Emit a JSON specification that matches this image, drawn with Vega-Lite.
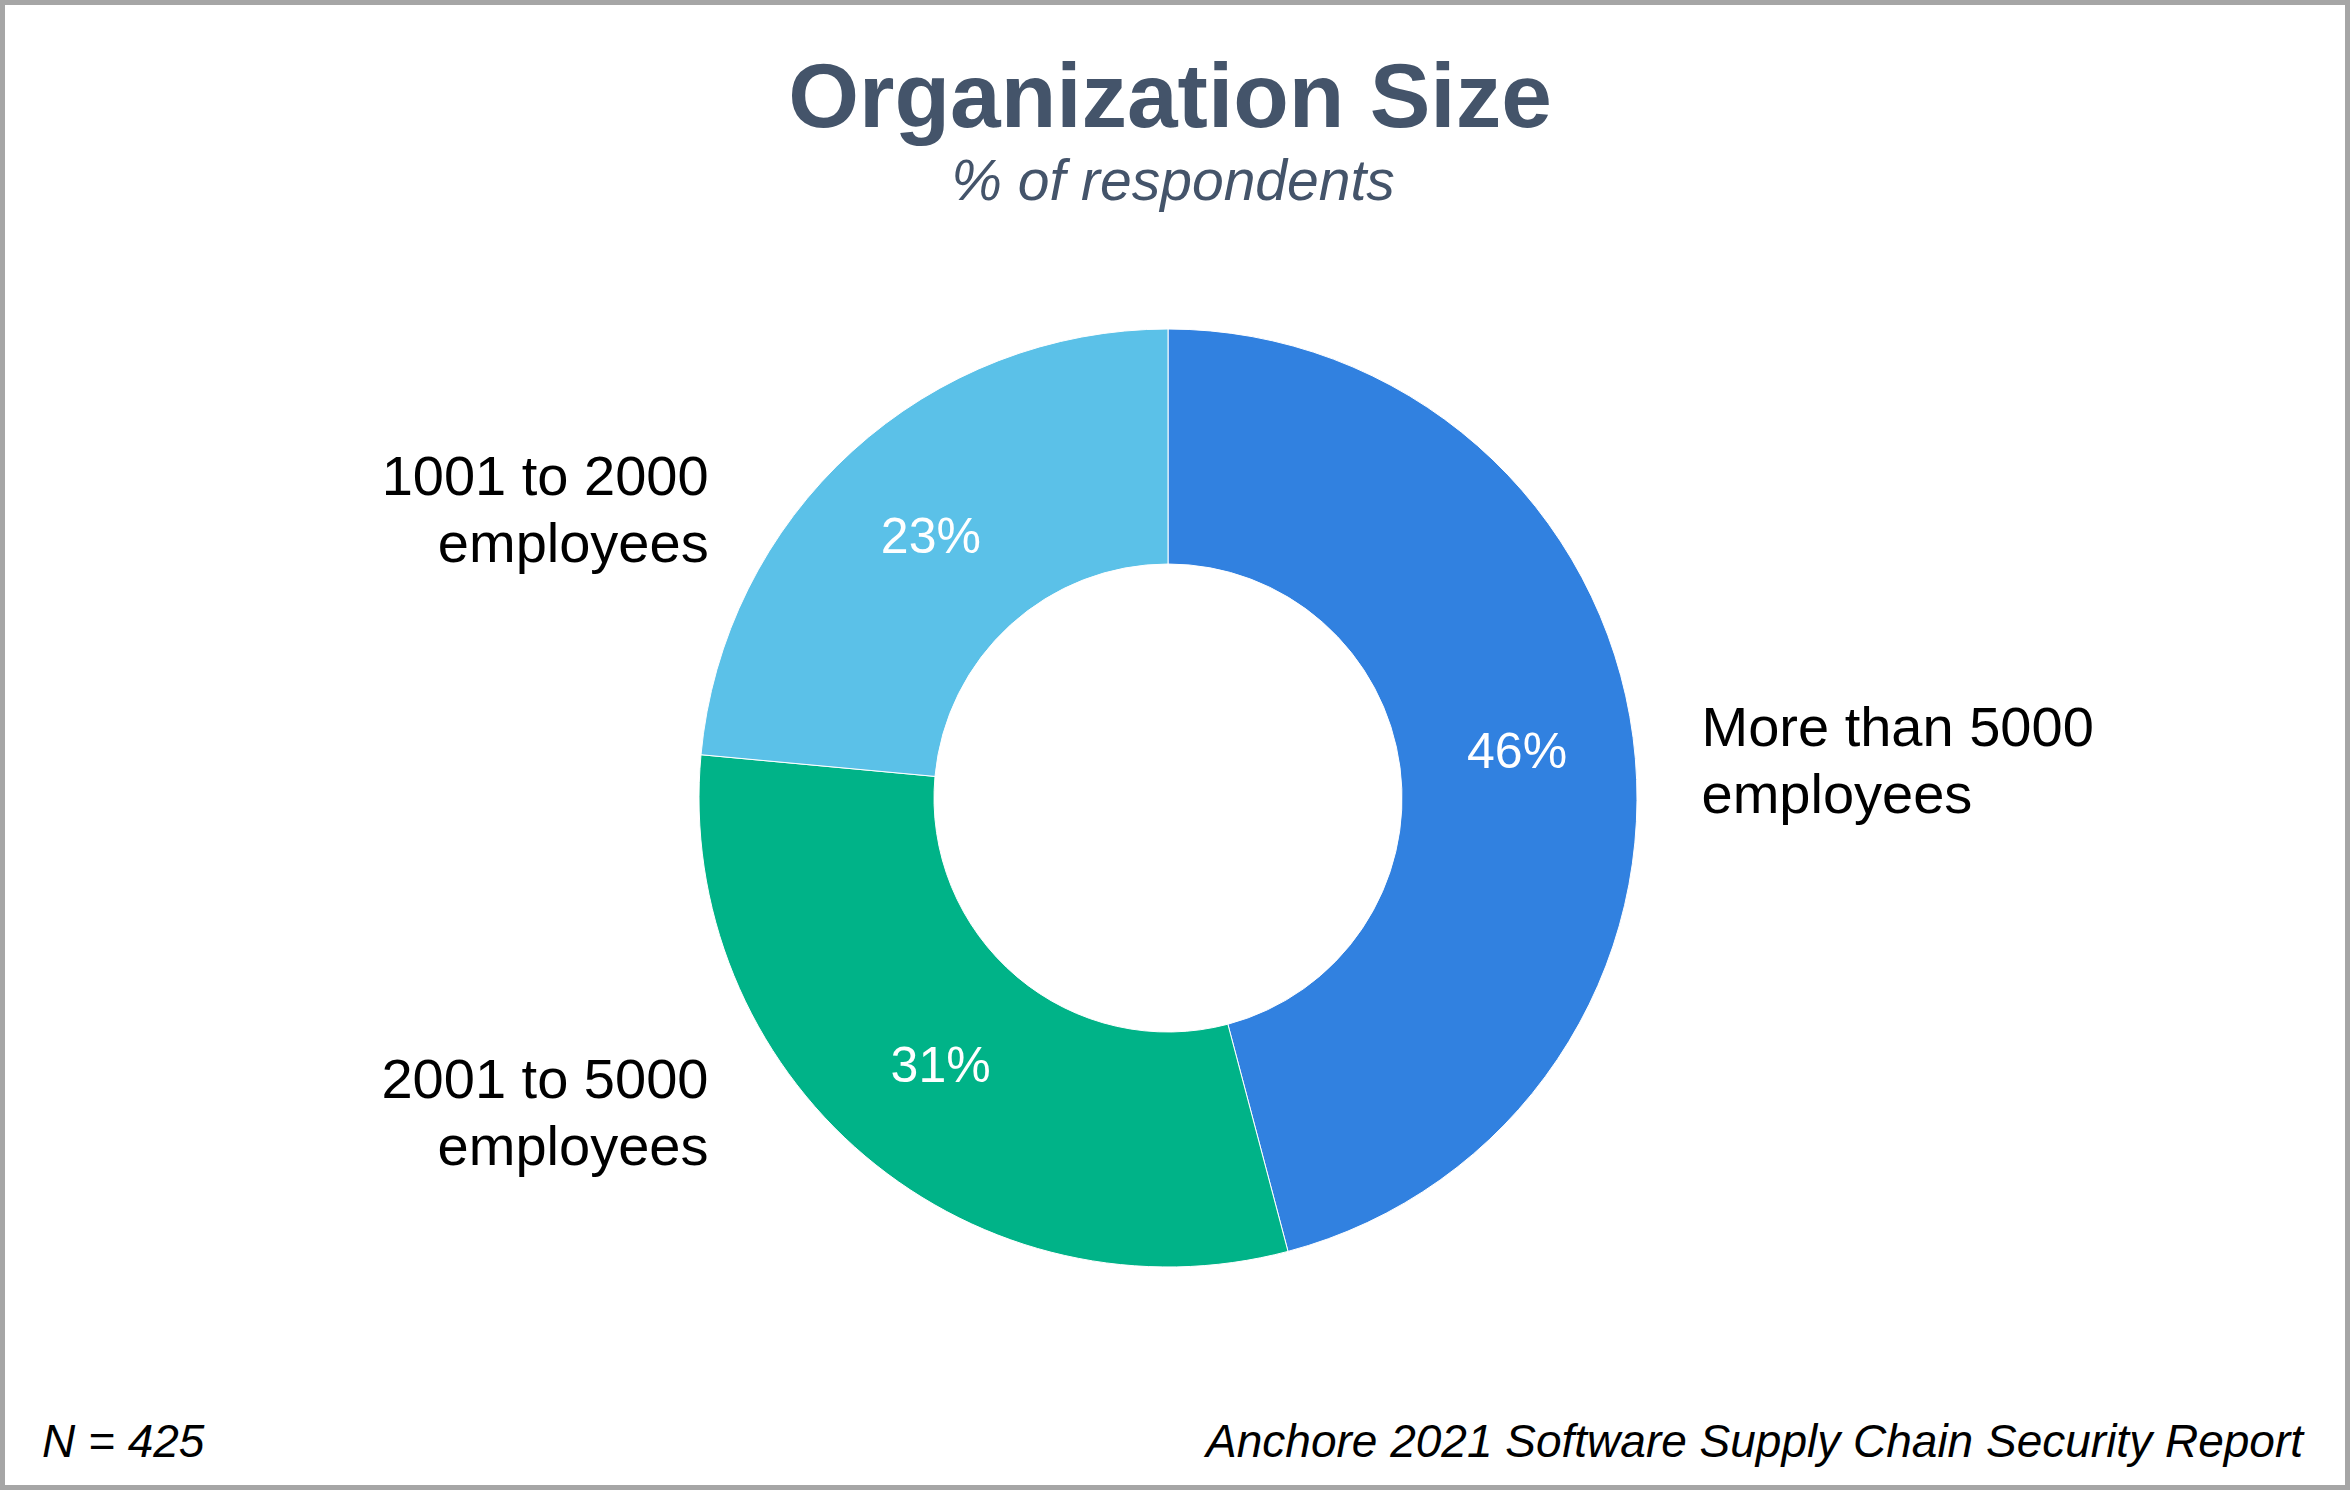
{
  "$schema": "https://vega.github.io/schema/vega-lite/v6.json",
  "width": 2350,
  "height": 1490,
  "autosize": {"type": "fit", "contains": "padding"},
  "padding": 0,
  "background": "white",
  "view": {"stroke": "#A6A6A6", "strokeWidth": 10, "fill": "white"},
  "config": {
    "view": {"stroke": "#A6A6A6", "strokeWidth": 10},
    "font": "Liberation Sans",
    "text": {"font": "Liberation Sans"}
  },
  "datasets": {
    "org": [
      {"category": "More than 5000\nemployees", "count": 195, "pct": "46%"},
      {"category": "2001 to 5000\nemployees", "count": 130, "pct": "31%"},
      {"category": "1001 to 2000\nemployees", "count": 100, "pct": "23%"}
    ],
    "notes": [
      {"title": "Organization Size", "subtitle": "% of respondents", "n": "N = 425", "source": "Anchore 2021 Software Supply Chain Security Report"}
    ]
  },
  "layer": [
    {
      "data": {"name": "org"},
      "mark": {"type": "arc", "innerRadius": 234, "outerRadius": 469, "x": {"expr": "width/2 - 7"}, "y": {"expr": "height/2 + 53"}, "stroke": "white", "strokeWidth": 1},
      "encoding": {
        "theta": {"field": "count", "type": "quantitative", "stack": true},
        "order": {"field": "category", "sort": "descending"},
        "color": {"field": "category", "type": "nominal", "legend": null,
          "scale": {"domain": ["More than 5000\nemployees", "2001 to 5000\nemployees", "1001 to 2000\nemployees"], "range": ["#3181E0", "#00B388", "#5BC1E8"]}}
      }
    },
    {
      "data": {"name": "org"},
      "mark": {"type": "text", "radius": 352, "x": {"expr": "width/2 - 7"}, "y": {"expr": "height/2 + 53"}, "fontSize": 50, "color": "white", "align": "center", "baseline": "middle"},
      "encoding": {
        "theta": {"field": "count", "type": "quantitative", "stack": true},
        "order": {"field": "category", "sort": "descending"},
        "text": {"field": "pct", "type": "nominal"}
      }
    },
    {
      "data": {"name": "org"},
      "mark": {"type": "text", "radius": 538, "x": {"expr": "width/2 - 7"}, "y": {"expr": "height/2 + 53"}, "dy": 0, "fontSize": 56, "lineHeight": 67, "lineBreak": "\n", "color": "black", "align": "left", "baseline": "middle"},
      "encoding": {
        "theta": {"field": "count", "type": "quantitative", "stack": true},
        "order": {"field": "category", "sort": "descending"},
        "text": {"condition": {"test": "indexof(datum.category, 'More') === 0", "field": "category"}, "value": ""}
      }
    },
    {
      "data": {"name": "org"},
      "mark": {"type": "text", "radius": 523, "x": {"expr": "width/2 - 7"}, "y": {"expr": "height/2 + 53"}, "dx": -107, "dy": 67, "fontSize": 56, "lineHeight": 67, "lineBreak": "\n", "color": "black", "align": "right", "baseline": "middle"},
      "encoding": {
        "theta": {"field": "count", "type": "quantitative", "stack": true},
        "order": {"field": "category", "sort": "descending"},
        "text": {"condition": {"test": "indexof(datum.category, '1001') === 0", "field": "category"}, "value": ""}
      }
    },
    {
      "data": {"name": "org"},
      "mark": {"type": "text", "radius": 535, "x": {"expr": "width/2 - 7"}, "y": {"expr": "height/2 + 53"}, "dx": -114, "dy": -125, "fontSize": 56, "lineHeight": 67, "lineBreak": "\n", "color": "black", "align": "right", "baseline": "middle"},
      "encoding": {
        "theta": {"field": "count", "type": "quantitative", "stack": true},
        "order": {"field": "category", "sort": "descending"},
        "text": {"condition": {"test": "indexof(datum.category, '2001') === 0", "field": "category"}, "value": ""}
      }
    },
    {
      "data": {"name": "notes"},
      "mark": {"type": "text", "x": {"expr": "width/2 - 5"}, "y": 127, "fontSize": 91, "fontWeight": "bold", "color": "#44546A", "align": "center", "baseline": "alphabetic"},
      "encoding": {"text": {"field": "title", "type": "nominal"}}
    },
    {
      "data": {"name": "notes"},
      "mark": {"type": "text", "x": {"expr": "width/2 - 2"}, "y": 200, "fontSize": 57, "fontStyle": "italic", "color": "#44546A", "align": "center", "baseline": "alphabetic"},
      "encoding": {"text": {"field": "subtitle", "type": "nominal"}}
    },
    {
      "data": {"name": "notes"},
      "mark": {"type": "text", "x": 42, "y": 1457, "fontSize": 46, "fontStyle": "italic", "color": "black", "align": "left", "baseline": "alphabetic"},
      "encoding": {"text": {"field": "n", "type": "nominal"}}
    },
    {
      "data": {"name": "notes"},
      "mark": {"type": "text", "x": {"expr": "width - 47"}, "y": 1457, "fontSize": 46, "fontStyle": "italic", "color": "black", "align": "right", "baseline": "alphabetic"},
      "encoding": {"text": {"field": "source", "type": "nominal"}}
    }
  ]
}
